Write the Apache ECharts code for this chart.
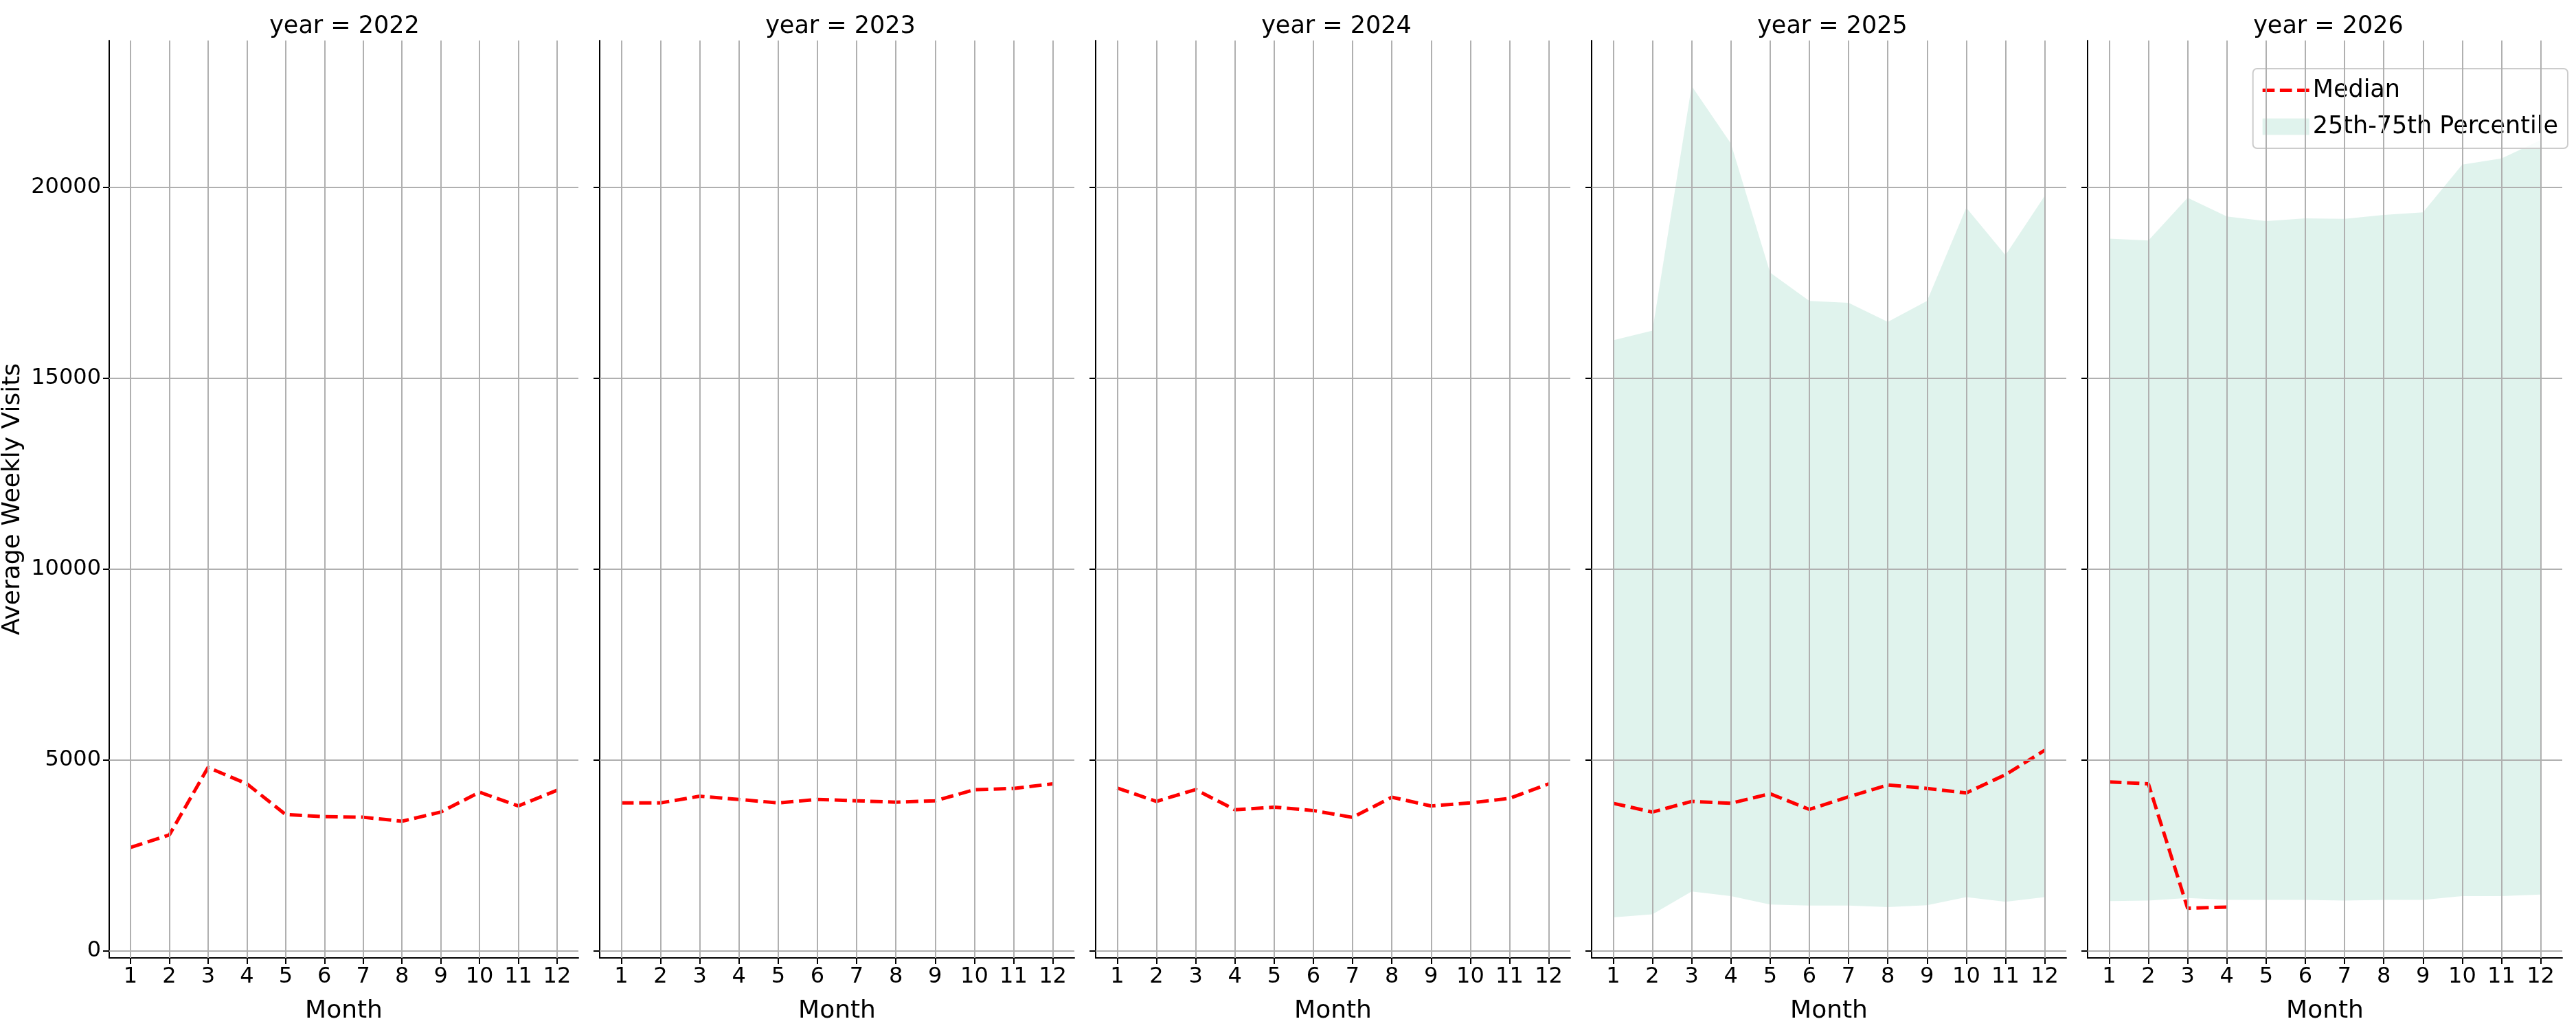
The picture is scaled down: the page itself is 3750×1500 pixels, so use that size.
<!DOCTYPE html>
<html><head><meta charset="utf-8">
<script src="https://cdn.jsdelivr.net/npm/echarts@6/dist/echarts.min.js"></script>
<style>html,body{margin:0;padding:0;background:#fff}#c{width:3750px;height:1500px}</style>
</head><body><div id="c"></div>
<script>
const years = [2022, 2023, 2024, 2025, 2026];
const months = [1,2,3,4,5,6,7,8,9,10,11,12];
const yTicks = [0, 5000, 10000, 15000, 20000];
const median2022 = [2715,3040,4810,4380,3575,3520,3505,3400,3640,4160,3800,4210];
const median2023 = [3880,3880,4055,3970,3880,3970,3935,3900,3935,4225,4260,4380];
const median2024 = [4270,3920,4230,3700,3770,3680,3500,4030,3800,3880,4000,4380];
const median2025 = [3870,3640,3920,3870,4120,3710,4040,4350,4260,4140,4620,5260];
const median2026 = [4430,4380,1120,1150,null,null,null,null,null,null,null,null];
const p25_2025 = [880,960,1560,1440,1220,1190,1190,1150,1200,1410,1290,1410];
const p75_2025 = [16000,16250,22660,21150,17770,17030,16980,16480,17030,19470,18230,19780];
const p25_2026 = [1310,1320,1390,1340,1340,1340,1320,1340,1340,1440,1440,1480];
const p75_2026 = [18660,18610,19730,19240,19120,19190,19180,19280,19350,20600,20760,21240];

const medians = [median2022, median2023, median2024, median2025, median2026];
const bands = [null, null, null, [p25_2025, p75_2025], [p25_2026, p75_2026]];

const FONT = 'DejaVu Sans';
const GRIDC = '#b0b0b0';
const BANDC = 'rgba(102,194,165,0.2)';
const L0 = 151, PW = 691, STEP = 722;
const grids = [], xAxes = [], yAxes = [], series = [], titles = [];
years.forEach((yr, i) => {
  grids.push({left: L0 + i*STEP, width: PW, top: 59, bottom: 105, containLabel: false});
  titles.push({text: 'year = ' + yr, left: L0 + i*STEP + PW/2, top: 16, textAlign: 'center',
    textStyle: {fontFamily: FONT, fontSize: 35, fontWeight: 'normal', color: '#000'}});
  xAxes.push({type: 'value', gridIndex: i, min: 0.45, max: 12.55,
    name: 'Month', nameLocation: 'middle', nameGap: 60,
    nameTextStyle: {fontFamily: FONT, fontSize: 36, color: '#000'},
    axisLine: {show: true, onZero: false, lineStyle: {color: '#000', width: 2}},
    axisTick: {show: true, length: 9, inside: false, customValues: months, lineStyle: {color: '#000', width: 2}},
    axisLabel: {show: true, customValues: months, fontFamily: FONT, fontSize: 32, color: '#000', margin: 12},
    splitLine: {show: false}});
  yAxes.push({type: 'value', gridIndex: i, min: -180, max: 23850,
    name: i === 0 ? 'Average Weekly Visits' : '', nameLocation: 'middle', nameGap: 122, nameRotate: 90,
    nameTextStyle: {fontFamily: FONT, fontSize: 36, color: '#000'},
    axisLine: {show: true, lineStyle: {color: '#000', width: 2}},
    axisTick: {show: true, length: 9, customValues: yTicks, lineStyle: {color: '#000', width: 2}},
    axisLabel: {show: i === 0, customValues: yTicks, formatter: v => String(v), fontFamily: FONT, fontSize: 32, color: '#000', margin: 12},
    splitLine: {show: false}});
  const b = bands[i];
  if (b) {
    const lo = b[0], hi = b[1];
    series.push({type: 'custom', name: '25th-75th Percentile', xAxisIndex: i, yAxisIndex: i,
      data: months.map((m, k) => [m, lo[k], hi[k]]), silent: true, z: 1,
      itemStyle: {color: BANDC},
      encode: {x: 0, y: [1, 2]},
      renderItem: (params, api) => {
        if (params.dataIndex !== 0) return null;
        const top = [], bot = [];
        for (let k = 0; k < months.length; k++) {
          top.push(api.coord([months[k], hi[k]]));
          bot.unshift(api.coord([months[k], lo[k]]));
        }
        return {type: 'polygon', shape: {points: top.concat(bot)}, style: {fill: BANDC}};
      }});
  }
  series.push({type: 'line', name: 'Median', xAxisIndex: i, yAxisIndex: i,
    data: months.map((m, k) => [m, medians[i][k]]), symbol: 'none', connectNulls: false,
    itemStyle: {color: '#ff0000'},
    lineStyle: {color: '#ff0000', width: 5, type: [18, 8]}, z: 3,
    markLine: {silent: true, symbol: 'none', animation: false, label: {show: false},
      lineStyle: {color: GRIDC, width: 2, type: 'solid'},
      data: months.map(m => ({xAxis: m})).concat(yTicks.map(v => ({yAxis: v})))}});
});
const chart = echarts.init(document.getElementById('c'), null, {renderer: 'canvas'});
chart.setOption({
  animation: false, backgroundColor: '#fff',
  title: titles, grid: grids, xAxis: xAxes, yAxis: yAxes, series: series,
  legend: {data: [
      {name: 'Median', icon: 'path://M0,0h14v4h-14z M20,0h14v4h-14z M40,0h14v4h-14z', itemStyle: {color: '#ff0000'}},
      {name: '25th-75th Percentile', icon: 'rect', itemStyle: {color: BANDC}}],
    orient: 'vertical', right: 12, top: 100,
    padding: [14, 14, 14, 14], itemGap: 18, itemWidth: 68, itemHeight: 24,
    borderColor: '#cccccc', borderWidth: 2, borderRadius: 6, backgroundColor: 'rgba(255,255,255,0.8)',
    textStyle: {fontFamily: FONT, fontSize: 35, color: '#000'}}
});
</script></body></html>
